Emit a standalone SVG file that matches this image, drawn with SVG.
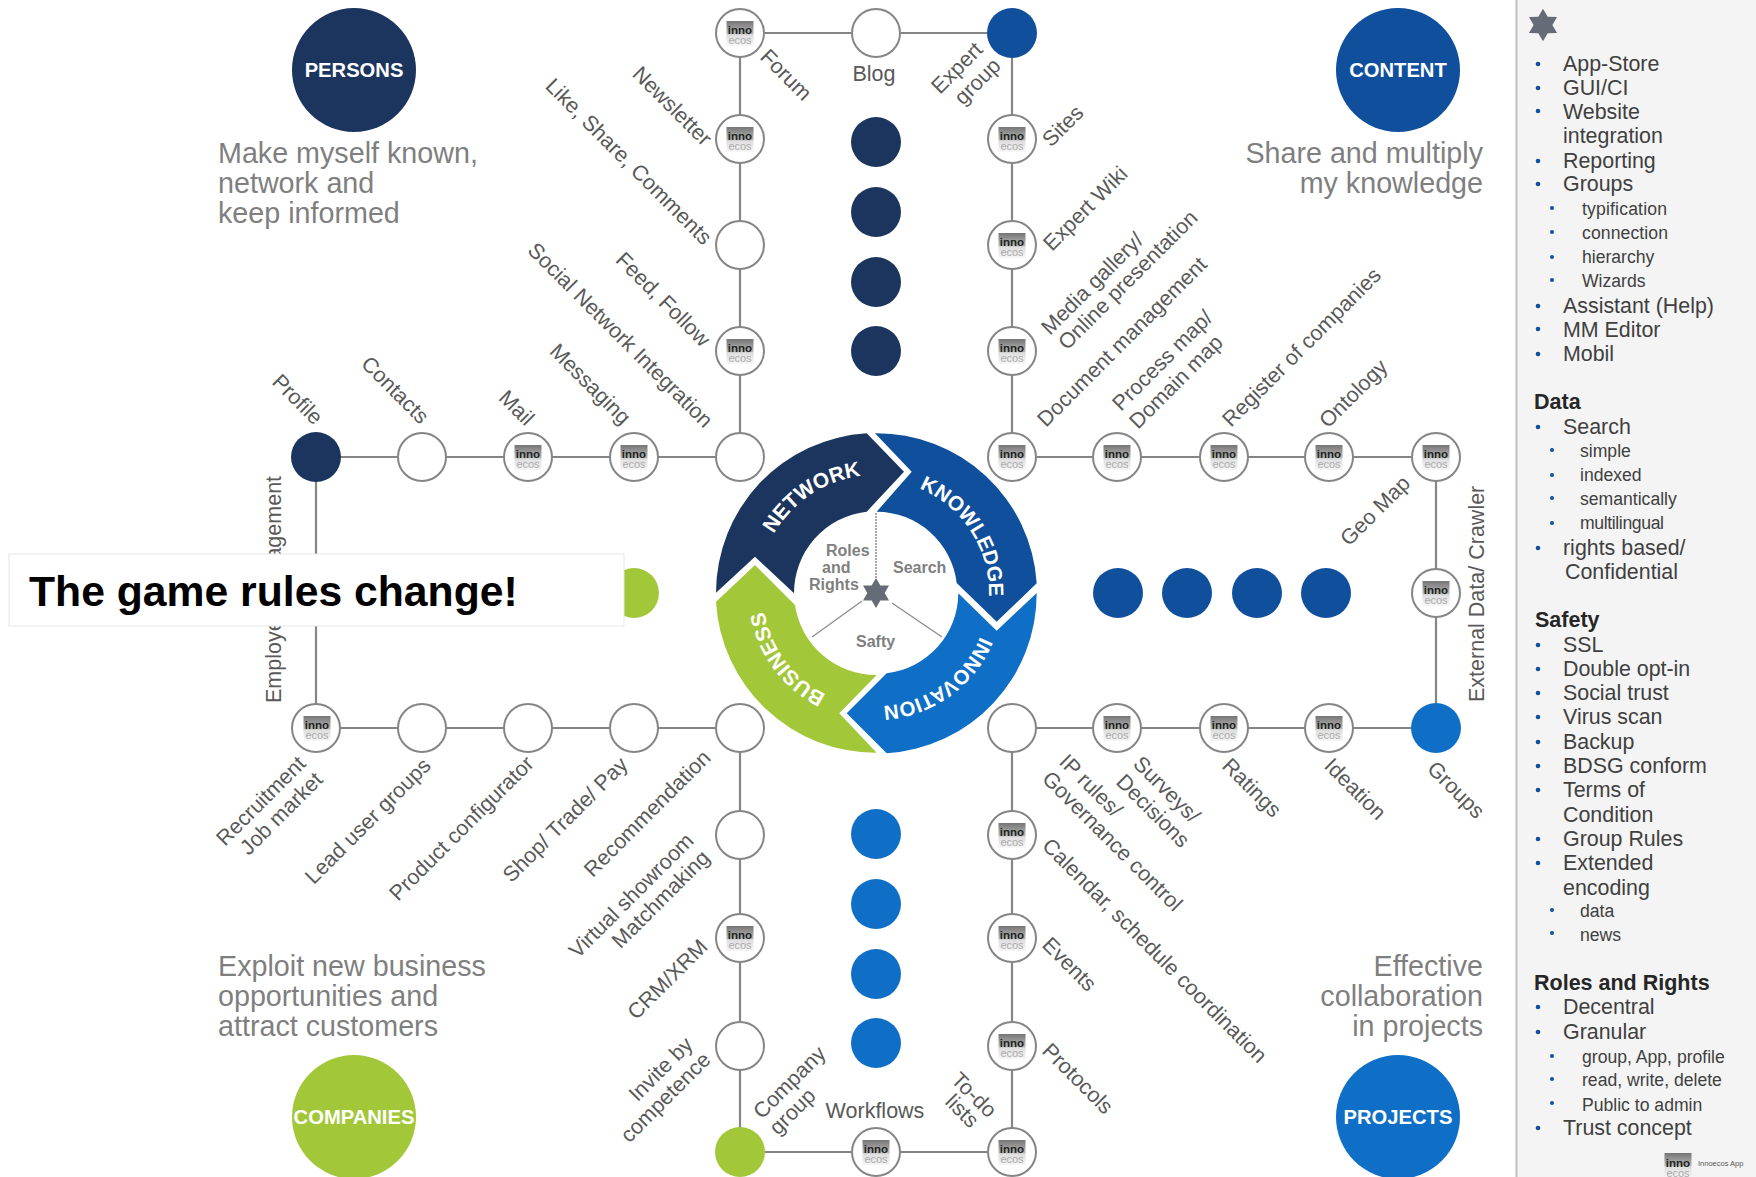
<svg xmlns="http://www.w3.org/2000/svg" width="1756" height="1177" viewBox="0 0 1756 1177">
<style>
text{font-family:"Liberation Sans",Arial,sans-serif}
.n{fill:#fff;stroke:#858585;stroke-width:2}
.in{font-size:11.5px;font-weight:bold;fill:#222;text-anchor:middle}
.ec{font-size:11px;fill:#aaa;text-anchor:middle}
.l{font-size:21.5px;fill:#595959}
.e{text-anchor:end}
.m{text-anchor:middle}
.d{font-size:28.7px;fill:#7f7f7f}
.h{font-size:20.2px;font-weight:bold;fill:#fff;text-anchor:middle}
.r{font-size:21px;font-weight:bold;fill:#fff;text-anchor:middle}
.c{font-size:16px;font-weight:bold;fill:#808080}
.s1{font-size:21.4px;fill:#404040}
.s2{font-size:17.6px;fill:#404040}
.sh{font-size:21.5px;font-weight:bold;fill:#262626}
#connectors line{stroke:#858585;stroke-width:2.2}
</style>
<defs>
<linearGradient id="g" x1="0" y1="0" x2="0" y2="1">
<stop offset="0" stop-color="#757575"/><stop offset=".5" stop-color="#b8b8b8"/><stop offset=".56" stop-color="#dedede"/><stop offset="1" stop-color="#f6f6f6"/>
</linearGradient>
<rect id="ico" x="-13.5" y="-12" width="27" height="25" fill="url(#g)"/>
<polygon id="star" points="0,-15 4.35,-7.53 13,-7.5 8.7,0 13,7.5 4.35,7.53 0,15 -4.35,7.53 -13,7.5 -8.7,0 -13,-7.5 -4.35,-7.53" fill="#666b78"/>
<path id="pn" d="M765,553A118,118 0 0 1 876,475"/>
<path id="pk" d="M895.6,481.7A113,113 0 0 1 987.3,612.6"/>
<path id="pi" d="M987.9,608.7A113,113 0 0 1 860.3,704.9"/>
<path id="pb" d="M856.4,704.3A113,113 0 0 1 764.7,573.4"/>
</defs>
<rect width="1756" height="1177" fill="#fff"/>

<g id="connectors">
<line x1="740" y1="33" x2="1012" y2="33"/>
<line x1="740" y1="33" x2="740" y2="457"/>
<line x1="1012" y1="33" x2="1012" y2="457"/>
<line x1="316" y1="457" x2="740" y2="457"/>
<line x1="1012" y1="457" x2="1436" y2="457"/>
<line x1="316" y1="457" x2="316" y2="728"/>
<line x1="1436" y1="457" x2="1436" y2="728"/>
<line x1="316" y1="728" x2="740" y2="728"/>
<line x1="1012" y1="728" x2="1436" y2="728"/>
<line x1="740" y1="728" x2="740" y2="1152"/>
<line x1="1012" y1="728" x2="1012" y2="1152"/>
<line x1="740" y1="1152" x2="1012" y2="1152"/>
</g>

<g id="persons"><circle cx="354" cy="70" r="62" fill="#1c355e"/><text class="h" x="354" y="77">PERSONS</text>
<text class="d" x="218" y="163">Make myself known,</text><text class="d" x="218" y="193">network and</text><text class="d" x="218" y="223">keep informed</text></g>
<g id="content"><circle cx="1398" cy="70" r="62" fill="#0f4f9c"/><text class="h" x="1398" y="77">CONTENT</text>
<text class="d e" x="1483" y="163">Share and multiply</text><text class="d e" x="1483" y="193">my knowledge</text></g>
<g id="companies"><circle cx="354" cy="1117" r="62" fill="#a2c83a"/><text class="h" x="354" y="1124">COMPANIES</text>
<text class="d" x="218" y="976">Exploit new business</text><text class="d" x="218" y="1006">opportunities and</text><text class="d" x="218" y="1036">attract customers</text></g>
<g id="projects"><circle cx="1398" cy="1117" r="62" fill="#0f6fc6"/><text class="h" x="1398" y="1124">PROJECTS</text>
<text class="d e" x="1483" y="976">Effective</text><text class="d e" x="1483" y="1006">collaboration</text><text class="d e" x="1483" y="1036">in projects</text></g>

<g id="n-forum"><circle class="n" cx="740" cy="33" r="24"/><use href="#ico" x="740" y="33"/><text class="in" x="740" y="34">inno</text><text class="ec" x="740" y="43.5">ecos</text><text class="l" transform="translate(759,58) rotate(45)">Forum</text></g>
<g id="n-blog"><circle class="n" cx="876" cy="33" r="24"/><text class="l m" x="874" y="81">Blog</text></g>
<g id="n-expert-group"><circle cx="1012" cy="33" r="25" fill="#0f4f9c"/><text class="l" transform="translate(940,95) rotate(-45)">Expert</text><text class="l" transform="translate(963,106) rotate(-45)">group</text></g>
<g id="n-newsletter"><circle class="n" cx="740" cy="139" r="24"/><use href="#ico" x="740" y="139"/><text class="in" x="740" y="140">inno</text><text class="ec" x="740" y="149.5">ecos</text><text class="l e" transform="translate(703,147) rotate(45)">Newsletter</text></g>
<g id="n-like"><circle class="n" cx="740" cy="245" r="24"/><text class="l e" transform="translate(703,246) rotate(45)">Like, Share, Comments</text></g>
<g id="n-feed"><circle class="n" cx="740" cy="351" r="24"/><use href="#ico" x="740" y="351"/><text class="in" x="740" y="352">inno</text><text class="ec" x="740" y="361.5">ecos</text><text class="l e" transform="translate(701.5,348) rotate(45)">Feed, Follow</text></g>
<g id="n-social"><circle class="n" cx="740" cy="457" r="24"/><text class="l e" transform="translate(704,429) rotate(45)">Social Network Integration</text></g>
<g id="n-sites"><circle class="n" cx="1012" cy="139" r="24"/><use href="#ico" x="1012" y="139"/><text class="in" x="1012" y="140">inno</text><text class="ec" x="1012" y="149.5">ecos</text><text class="l" transform="translate(1051,148) rotate(-45)">Sites</text></g>
<g id="n-wiki"><circle class="n" cx="1012" cy="245" r="24"/><use href="#ico" x="1012" y="245"/><text class="in" x="1012" y="246">inno</text><text class="ec" x="1012" y="255.5">ecos</text><text class="l" transform="translate(1052,252) rotate(-45)">Expert Wiki</text></g>
<g id="n-media"><circle class="n" cx="1012" cy="351" r="24"/><use href="#ico" x="1012" y="351"/><text class="in" x="1012" y="352">inno</text><text class="ec" x="1012" y="361.5">ecos</text><text class="l" transform="translate(1050,336) rotate(-45)">Media gallery/</text><text class="l" transform="translate(1067,351) rotate(-45)">Online presentation</text></g>
<g id="n-document"><circle class="n" cx="1012" cy="457" r="24"/><use href="#ico" x="1012" y="457"/><text class="in" x="1012" y="458">inno</text><text class="ec" x="1012" y="467.5">ecos</text><text class="l" transform="translate(1046,428) rotate(-45)">Document management</text></g>
<g id="n-profile"><circle cx="316" cy="457" r="25" fill="#1c355e"/><text class="l e" transform="translate(314,426) rotate(45)">Profile</text></g>
<g id="n-contacts"><circle class="n" cx="422" cy="457" r="24"/><text class="l e" transform="translate(420,425) rotate(45)">Contacts</text></g>
<g id="n-mail"><circle class="n" cx="528" cy="457" r="24"/><use href="#ico" x="528" y="457"/><text class="in" x="528" y="458">inno</text><text class="ec" x="528" y="467.5">ecos</text><text class="l e" transform="translate(525.5,427) rotate(45)">Mail</text></g>
<g id="n-messaging"><circle class="n" cx="634" cy="457" r="24"/><use href="#ico" x="634" y="457"/><text class="in" x="634" y="458">inno</text><text class="ec" x="634" y="467.5">ecos</text><text class="l e" transform="translate(622,426) rotate(45)">Messaging</text></g>
<g id="n-process"><circle class="n" cx="1117" cy="457" r="24"/><use href="#ico" x="1117" y="457"/><text class="in" x="1117" y="458">inno</text><text class="ec" x="1117" y="467.5">ecos</text><text class="l" transform="translate(1121,412) rotate(-45)">Process map/</text><text class="l" transform="translate(1138,430) rotate(-45)">Domain map</text></g>
<g id="n-register"><circle class="n" cx="1224" cy="457" r="24"/><use href="#ico" x="1224" y="457"/><text class="in" x="1224" y="458">inno</text><text class="ec" x="1224" y="467.5">ecos</text><text class="l" transform="translate(1231,428) rotate(-45)">Register of companies</text></g>
<g id="n-ontology"><circle class="n" cx="1329" cy="457" r="24"/><use href="#ico" x="1329" y="457"/><text class="in" x="1329" y="458">inno</text><text class="ec" x="1329" y="467.5">ecos</text><text class="l" transform="translate(1328,429) rotate(-45)">Ontology</text></g>
<g id="n-geomap"><circle class="n" cx="1436" cy="457" r="24"/><use href="#ico" x="1436" y="457"/><text class="in" x="1436" y="458">inno</text><text class="ec" x="1436" y="467.5">ecos</text><text class="l" transform="translate(1349,547) rotate(-45)">Geo Map</text></g>
<g id="n-external"><circle class="n" cx="1436" cy="593" r="24"/><use href="#ico" x="1436" y="593"/><text class="in" x="1436" y="594">inno</text><text class="ec" x="1436" y="603.5">ecos</text><text class="l" transform="translate(1484,702) rotate(-90)">External Data/ Crawler</text></g>
<g id="n-groups"><circle cx="1436" cy="728" r="25" fill="#0f6fc6"/><text class="l" transform="translate(1426,770) rotate(45)">Groups</text></g>
<g id="n-ideation"><circle class="n" cx="1329" cy="728" r="24"/><use href="#ico" x="1329" y="728"/><text class="in" x="1329" y="729">inno</text><text class="ec" x="1329" y="738.5">ecos</text><text class="l" transform="translate(1323,767) rotate(45)">Ideation</text></g>
<g id="n-ratings"><circle class="n" cx="1224" cy="728" r="24"/><use href="#ico" x="1224" y="728"/><text class="in" x="1224" y="729">inno</text><text class="ec" x="1224" y="738.5">ecos</text><text class="l" transform="translate(1221,767) rotate(45)">Ratings</text></g>
<g id="n-surveys"><circle class="n" cx="1117" cy="728" r="24"/><use href="#ico" x="1117" y="728"/><text class="in" x="1117" y="729">inno</text><text class="ec" x="1117" y="738.5">ecos</text><text class="l" transform="translate(1132,765) rotate(45)">Surveys/</text><text class="l" transform="translate(1115,783) rotate(45)">Decisions</text></g>
<g id="n-ip"><circle class="n" cx="1012" cy="728" r="24"/><text class="l" transform="translate(1058,763) rotate(45)">IP rules/</text><text class="l" transform="translate(1041,780) rotate(45)">Governance control</text></g>
<g id="n-calendar"><circle class="n" cx="1012" cy="835" r="24"/><use href="#ico" x="1012" y="835"/><text class="in" x="1012" y="836">inno</text><text class="ec" x="1012" y="845.5">ecos</text><text class="l" transform="translate(1041,847) rotate(45)">Calendar, schedule coordination</text></g>
<g id="n-events"><circle class="n" cx="1012" cy="938" r="24"/><use href="#ico" x="1012" y="938"/><text class="in" x="1012" y="939">inno</text><text class="ec" x="1012" y="948.5">ecos</text><text class="l" transform="translate(1041,946) rotate(45)">Events</text></g>
<g id="n-protocols"><circle class="n" cx="1012" cy="1046" r="24"/><use href="#ico" x="1012" y="1046"/><text class="in" x="1012" y="1047">inno</text><text class="ec" x="1012" y="1056.5">ecos</text><text class="l" transform="translate(1041,1052) rotate(45)">Protocols</text></g>
<g id="n-todo"><circle class="n" cx="1012" cy="1152" r="24"/><use href="#ico" x="1012" y="1152"/><text class="in" x="1012" y="1153">inno</text><text class="ec" x="1012" y="1162.5">ecos</text><text class="l" transform="translate(950,1081) rotate(45)">To-do</text><text class="l" transform="translate(944,1103) rotate(45)">lists</text></g>
<g id="n-workflows"><circle class="n" cx="876" cy="1152" r="24"/><use href="#ico" x="876" y="1152"/><text class="in" x="876" y="1153">inno</text><text class="ec" x="876" y="1162.5">ecos</text><text class="l m" x="875" y="1118">Workflows</text></g>
<g id="n-company-group"><circle cx="740" cy="1152" r="25" fill="#a2c83a"/><text class="l e" transform="translate(827,1055) rotate(-45)">Company</text><text class="l e" transform="translate(817,1097) rotate(-45)">group</text></g>
<g id="n-invite"><circle class="n" cx="740" cy="1046" r="24"/><text class="l e" transform="translate(694,1046) rotate(-45)">Invite by</text><text class="l e" transform="translate(712,1061) rotate(-45)">competence</text></g>
<g id="n-crm"><circle class="n" cx="740" cy="938" r="24"/><use href="#ico" x="740" y="938"/><text class="in" x="740" y="939">inno</text><text class="ec" x="740" y="948.5">ecos</text><text class="l e" transform="translate(709,948) rotate(-45)">CRM/XRM</text></g>
<g id="n-virtual"><circle class="n" cx="740" cy="835" r="24"/><text class="l e" transform="translate(695,842) rotate(-45)">Virtual showroom</text><text class="l e" transform="translate(711,859) rotate(-45)">Matchmaking</text></g>
<g id="n-recommendation"><circle class="n" cx="740" cy="728" r="24"/><text class="l e" transform="translate(712,759) rotate(-45)">Recommendation</text></g>
<g id="n-shop"><circle class="n" cx="634" cy="728" r="24"/><text class="l e" transform="translate(629,766) rotate(-45)">Shop/ Trade/ Pay</text></g>
<g id="n-product"><circle class="n" cx="528" cy="728" r="24"/><text class="l e" transform="translate(535,765) rotate(-45)">Product configurator</text></g>
<g id="n-lead"><circle class="n" cx="422" cy="728" r="24"/><text class="l e" transform="translate(432,767) rotate(-45)">Lead user groups</text></g>
<g id="n-recruitment"><circle class="n" cx="316" cy="728" r="24"/><use href="#ico" x="317" y="728"/><text class="in" x="317" y="729">inno</text><text class="ec" x="317" y="738.5">ecos</text><text class="l e" transform="translate(307,765) rotate(-45)">Recruitment</text><text class="l e" transform="translate(324,781) rotate(-45)">Job market</text></g>
<text class="l" transform="translate(281,703) rotate(-90)">Employee management</text>

<g id="dots-network" fill="#1c355e"><circle cx="876" cy="142" r="25"/><circle cx="876" cy="212" r="25"/><circle cx="876" cy="282" r="25"/><circle cx="876" cy="351" r="25"/></g>
<g id="dots-knowledge" fill="#0f4f9c"><circle cx="1118" cy="593" r="25"/><circle cx="1187" cy="593" r="25"/><circle cx="1257" cy="593" r="25"/><circle cx="1326" cy="593" r="25"/></g>
<g id="dots-innovation" fill="#0f6fc6"><circle cx="876" cy="834" r="25"/><circle cx="876" cy="904" r="25"/><circle cx="876" cy="974" r="25"/><circle cx="876" cy="1043" r="25"/></g>
<circle id="dot-business" cx="634" cy="593" r="25" fill="#a2c83a"/>

<g id="ring">
<path id="seg-network" fill="#1c355e" d="M716,592.7A160,160 0 0 1 866.7,433.3L904,471.7L866.7,511.7A82,82 0 0 0 794,593.3L755,556.7Z"/>
<path id="seg-knowledge" fill="#0f4f9c" d="M875,433.3A160,160 0 0 1 1036.7,583.3L996.7,621.7L956.7,583A81,81 0 0 0 876.7,511.7L911.7,471.7Z"/>
<path id="seg-innovation" fill="#0f6fc6" d="M1036.7,593A160,160 0 0 1 886.7,753.3L846.7,713.3L886.7,673.3A81,81 0 0 0 958.3,593.3L996.7,630.7Z"/>
<path id="seg-business" fill="#a2c83a" d="M876.7,752.7A160,160 0 0 1 716,601.7L755,565L795,605A82,82 0 0 0 876.7,675L839.3,713.3Z"/>
<text class="r"><textPath href="#pn" startOffset="52%">NETWORK</textPath></text>
<text class="r" font-size="20.7" style="font-size:20.7px"><textPath href="#pk" startOffset="52.4%">KNOWLEDGE</textPath></text>
<text class="r" style="font-size:20.5px"><textPath href="#pi" startOffset="51.7%">INNOVATION</textPath></text>
<text class="r"><textPath href="#pb" startOffset="48.3%">BUSINESS</textPath></text>
<line x1="876" y1="513" x2="876" y2="578" stroke="#8a8a8a" stroke-width="1.5" stroke-dasharray="2 1"/>
<line x1="862" y1="601" x2="812" y2="637" stroke="#8a8a8a" stroke-width="1.2"/>
<line x1="892" y1="603" x2="942" y2="637" stroke="#8a8a8a" stroke-width="1.2"/>
<use href="#star" x="876" y="593"/>
<text class="c" x="826" y="556">Roles</text><text class="c" x="822" y="573">and</text><text class="c" x="809" y="590">Rights</text>
<text class="c" x="893" y="573">Search</text><text class="c" x="856" y="647">Safty</text>
</g>

<g id="game-rules"><rect x="9" y="554" width="615" height="72" fill="#fff" stroke="#e6e6e6"/><text x="29" y="606" font-size="42.7" font-weight="bold" fill="#000">The game rules change!</text></g>

<g id="sidebar">
<rect x="1516.5" y="-2" width="242" height="1181" fill="#f4f4f4" stroke="#bdbdbd" stroke-width="2"/>
<use href="#star" transform="translate(1543,25) scale(1.08)"/>
<g fill="#0f4f9c">
<circle cx="1538" cy="64" r="2.3"/><circle cx="1538" cy="88" r="2.3"/><circle cx="1538" cy="111" r="2.3"/><circle cx="1538" cy="161" r="2.3"/><circle cx="1538" cy="184" r="2.3"/>
<circle cx="1552" cy="208" r="2"/><circle cx="1552" cy="232" r="2"/><circle cx="1552" cy="257" r="2"/><circle cx="1552" cy="280" r="2"/>
<circle cx="1538" cy="306" r="2.3"/><circle cx="1538" cy="329" r="2.3"/><circle cx="1538" cy="354" r="2.3"/>
<circle cx="1538" cy="427" r="2.3"/><circle cx="1552" cy="450" r="2"/><circle cx="1552" cy="475" r="2"/><circle cx="1552" cy="498" r="2"/><circle cx="1552" cy="523" r="2"/><circle cx="1538" cy="548" r="2.3"/>
<circle cx="1538" cy="645" r="2.3"/><circle cx="1538" cy="669" r="2.3"/><circle cx="1538" cy="693" r="2.3"/><circle cx="1538" cy="717" r="2.3"/><circle cx="1538" cy="742" r="2.3"/><circle cx="1538" cy="766" r="2.3"/><circle cx="1538" cy="790" r="2.3"/><circle cx="1538" cy="839" r="2.3"/><circle cx="1538" cy="863" r="2.3"/>
<circle cx="1552" cy="910" r="2"/><circle cx="1552" cy="933" r="2"/>
<circle cx="1538" cy="1007" r="2.3"/><circle cx="1538" cy="1032" r="2.3"/><circle cx="1552" cy="1056" r="2"/><circle cx="1552" cy="1079" r="2"/><circle cx="1552" cy="1103" r="2"/><circle cx="1538" cy="1128" r="2.3"/>
</g>
<text class="s1" x="1563" y="71">App-Store</text>
<text class="s1" x="1563" y="95">GUI/CI</text>
<text class="s1" x="1563" y="119">Website</text>
<text class="s1" x="1563" y="143">integration</text>
<text class="s1" x="1563" y="168">Reporting</text>
<text class="s1" x="1563" y="191">Groups</text>
<text class="s2" x="1582" y="215" textLength="85">typification</text>
<text class="s2" x="1582" y="239" textLength="86">connection</text>
<text class="s2" x="1582" y="263">hierarchy</text>
<text class="s2" x="1582" y="287">Wizards</text>
<text class="s1" x="1563" y="313">Assistant (Help)</text>
<text class="s1" x="1563" y="337">MM Editor</text>
<text class="s1" x="1563" y="361">Mobil</text>
<text class="sh" x="1534" y="409">Data</text>
<text class="s1" x="1563" y="434">Search</text>
<text class="s2" x="1580" y="457">simple</text>
<text class="s2" x="1580" y="481">indexed</text>
<text class="s2" x="1580" y="505">semantically</text>
<text class="s2" x="1580" y="529" textLength="84">multilingual</text>
<text class="s1" x="1563" y="555">rights based/</text>
<text class="s1" x="1565" y="579">Confidential</text>
<text class="sh" x="1535" y="627">Safety</text>
<text class="s1" x="1563" y="652">SSL</text>
<text class="s1" x="1563" y="676">Double  opt-in</text>
<text class="s1" x="1563" y="700">Social trust</text>
<text class="s1" x="1563" y="724">Virus scan</text>
<text class="s1" x="1563" y="749">Backup</text>
<text class="s1" x="1563" y="773">BDSG conform</text>
<text class="s1" x="1563" y="797">Terms  of</text>
<text class="s1" x="1563" y="822">Condition</text>
<text class="s1" x="1563" y="846">Group Rules</text>
<text class="s1" x="1563" y="870">Extended</text>
<text class="s1" x="1563" y="895">encoding</text>
<text class="s2" x="1580" y="917">data</text>
<text class="s2" x="1580" y="941">news</text>
<text class="sh" x="1534" y="990">Roles and Rights</text>
<text class="s1" x="1563" y="1014">Decentral</text>
<text class="s1" x="1563" y="1039">Granular</text>
<text class="s2" x="1582" y="1063">group, App, profile</text>
<text class="s2" x="1582" y="1086">read, write, delete</text>
<text class="s2" x="1582" y="1111">Public to admin</text>
<text class="s1" x="1563" y="1135">Trust concept</text>
<use href="#ico" transform="translate(1678,1165)"/>
<text class="in" x="1678" y="1167">inno</text><text class="ec" x="1678" y="1177">ecos</text>
<text x="1698" y="1166" font-size="7.5" fill="#555">Innoecos App</text>
</g>
</svg>
